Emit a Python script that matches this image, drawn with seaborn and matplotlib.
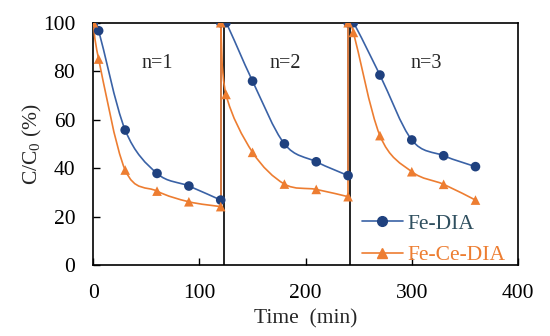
import numpy as np
import pandas as pd
import matplotlib
matplotlib.use("Agg")
import matplotlib.pyplot as plt
import seaborn as sns
from matplotlib.path import Path
from matplotlib.patches import PathPatch
from matplotlib.lines import Line2D

# times of each cycle (min)
cycle1_time = [0, 5, 30, 60, 90, 120]
cycle2_time = [120, 125, 150, 180, 210, 240]
cycle3_time = [240, 245, 270, 300, 330, 360]

# C/C0 (%)
fe_dia = [[100, 96.7, 55.7, 37.8, 32.6, 26.8],
          [100, 100, 75.9, 50.0, 42.6, 36.9],
          [100, 100, 78.4, 51.6, 45.1, 40.6]]
fe_ce_dia = [[100, 85.0, 39.2, 30.5, 26.1, 24.1],
             [100, 70.4, 46.5, 33.4, 31.2, 28.2],
             [100, 96.0, 53.4, 38.5, 33.3, 26.8]]

cycle_labels = ["n=1", "n=2", "n=3"]
separators = [123, 242]

blue_line = "#3A62A6"
blue_mark = "#1F417F"
orange = "#ED7D31"

times = [cycle1_time, cycle2_time, cycle3_time]
rows = []
for name, series in [("Fe-DIA", fe_dia), ("Fe-Ce-DIA", fe_ce_dia)]:
    for t, v in zip(times, series):
        for ti, vi in zip(t, v):
            rows.append({"time": ti, "value": vi, "sample": name})
df = pd.DataFrame(rows)

sns.set_style("ticks")
plt.rcParams["font.family"] = ["Liberation Serif", "DejaVu Serif"]
plt.rcParams["mathtext.fontset"] = "custom"
plt.rcParams["mathtext.rm"] = "Liberation Serif"
plt.rcParams["mathtext.it"] = "Liberation Serif:italic"

fig = plt.figure(figsize=(5.5, 3.36), dpi=100)
ax = fig.add_axes([0.1697, 0.2113, 0.772, 0.7211])


def smooth_path(xs, ys):
    # Excel-style smoothed line: cubic Bezier through the points
    pts = np.column_stack([xs, ys]).astype(float)
    verts = [pts[0]]
    codes = [Path.MOVETO]
    n = len(pts)
    for i in range(n - 1):
        p0 = pts[i - 1] if i > 0 else pts[i]
        p1 = pts[i]
        p2 = pts[i + 1]
        p3 = pts[i + 2] if i + 2 < n else pts[i + 1]
        c1 = p1 + (p2 - p0) / 6.0
        c2 = p2 - (p3 - p1) / 6.0
        verts += [c1, c2, p2]
        codes += [Path.CURVE4] * 3
    return Path(verts, codes)


for series, col in [(fe_dia, blue_line), (fe_ce_dia, orange)]:
    for k, (t, v) in enumerate(zip(times, series)):
        ax.add_patch(PathPatch(smooth_path(t, v), fill=False,
                               edgecolor=col, lw=1.2, zorder=3))
        if k > 0:
            # jump back to 100 % at the start of a new cycle
            prev_t, prev_v = times[k - 1], series[k - 1]
            ax.plot([prev_t[-1], t[0]], [prev_v[-1], v[0]],
                    color=col, lw=1.2, zorder=3)

sns.scatterplot(data=df, x="time", y="value", hue="sample", style="sample",
                markers={"Fe-DIA": "o", "Fe-Ce-DIA": "^"},
                palette={"Fe-DIA": blue_mark, "Fe-Ce-DIA": orange},
                s=48, edgecolor="none", legend=False, zorder=4, ax=ax)

for xs in separators:
    ax.plot([xs, xs], [0, 100], color="black", lw=1.2, zorder=2)

label_x = [60, 181, 314]
for lx, lab in zip(label_x, cycle_labels):
    ax.text(lx, 83, lab, ha="center", va="center", fontsize=14.5)

ax.set_xlim(0, 400)
ax.set_ylim(0, 100)
ax.set_xticks([0, 100, 200, 300, 400])
ax.set_yticks([0, 20, 40, 60, 80, 100])
ax.tick_params(direction="in", labelsize=15.5, length=5, width=1,
               colors="black")
ax.tick_params(axis="x", pad=14)
ax.tick_params(axis="y", pad=13)
ax.set_xlabel("Time  (min)", fontsize=15.5, labelpad=4)
ax.set_ylabel("C/C$_0$ (%)", fontsize=15.5, labelpad=-1)
for sp in ax.spines.values():
    sp.set_linewidth(1.2)
    sp.set_color("black")
    sp.set_visible(True)

handles = [Line2D([], [], color=blue_line, lw=1.2, marker="o",
                  markersize=7, markerfacecolor=blue_mark,
                  markeredgecolor=blue_mark),
           Line2D([], [], color=orange, lw=1.2, marker="^",
                  markersize=7, markerfacecolor=orange,
                  markeredgecolor=orange)]
leg = ax.legend(handles, ["Fe-DIA", "Fe-Ce-DIA"], loc="lower right",
                bbox_to_anchor=(1.0, -0.055), frameon=False, fontsize=15.5,
                handlelength=1.9, handletextpad=0.2, labelspacing=0.55,
                borderaxespad=0.2, labelcolor=["#2F4F5F", orange])

fig.savefig("out.png", dpi=100)
